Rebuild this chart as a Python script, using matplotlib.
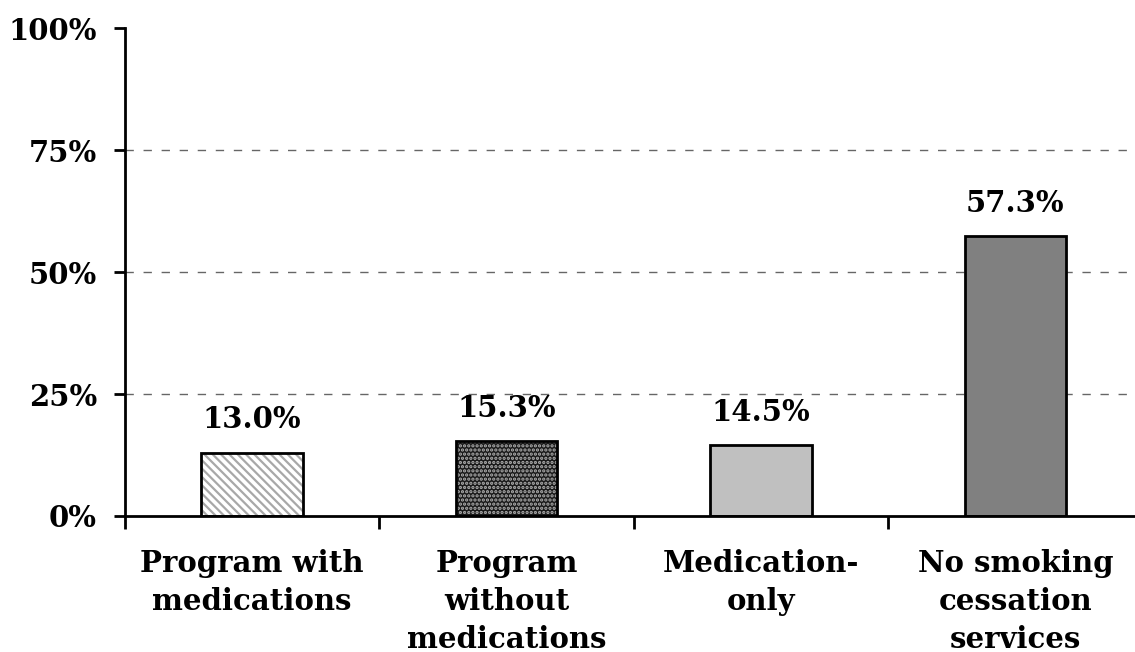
import matplotlib.pyplot as plt
import numpy as np

categories = ["Program with\nmedications", "Program\nwithout\nmedications",
              "Medication-\nonly", "No smoking\ncessation\nservices"]
values = [13.0, 15.3, 14.5, 57.3]
y_ticks = [0, 25, 50, 75, 100]

plt.rcParams["font.family"] = ["DejaVu Serif"]
plt.rcParams["font.weight"] = "bold"
plt.rcParams["hatch.linewidth"] = 1.6
FS = 21

fig = plt.figure(figsize=(11.35, 6.52), dpi=100)
ax = fig.add_axes([0.110, 0.2086, 0.890, 0.7484])

x = np.arange(len(values))
w = 0.4

# hatched fills first, then plain outlines on top
fills = [
    dict(facecolor="white", edgecolor="#a8a8a8", hatch="\\\\\\\\"),
    dict(facecolor="#1a1a1a", edgecolor="#b0b0b0", hatch="...."),
    dict(facecolor="#c0c0c0", edgecolor="#c0c0c0", hatch=None),
    dict(facecolor="#808080", edgecolor="#808080", hatch=None),
]
for xi, v, st in zip(x, values, fills):
    ax.bar(xi, v, width=w, linewidth=0, zorder=2, **st)
ax.bar(x, values, width=w, facecolor="none", edgecolor="black", linewidth=2, zorder=3)

for xi, v in zip(x, values):
    ax.text(xi, v + 3.8, f"{v:.1f}%", ha="center", va="bottom",
            fontsize=FS, fontweight="bold")

ax.set_ylim(0, 100)
ax.set_xlim(-0.5, 3.47)
ax.set_yticks(y_ticks)
ax.set_yticklabels([f"{t}%" for t in y_ticks], fontsize=FS, fontweight="bold")
for t in y_ticks[1:-1]:
    ax.axhline(t, color="#666666", linestyle=(0, (6, 7)), linewidth=1, zorder=1)

ax.set_xticks(x)
ax.set_xticklabels(categories, fontsize=FS, fontweight="bold", linespacing=1.38)
ax.set_xticks(np.arange(-0.5, 3.0, 1), minor=True)
ax.tick_params(axis="x", which="major", length=0, pad=24)
ax.tick_params(axis="x", which="minor", length=9, width=2, direction="out")
ax.tick_params(axis="y", length=8, width=2, direction="out", pad=12)

for s in ["top", "right"]:
    ax.spines[s].set_visible(False)
for s in ["left", "bottom"]:
    ax.spines[s].set_linewidth(2)

fig.savefig("out.png", dpi=100)
